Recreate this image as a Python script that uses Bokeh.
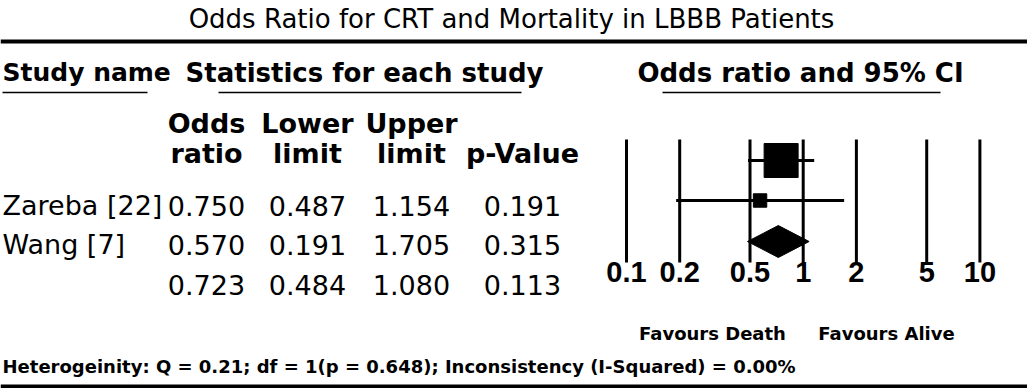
import math
from bokeh.plotting import figure
from bokeh.models import Range1d, LogScale
from bokeh.core.properties import value
from bokeh.embed import file_html
from bokeh.resources import INLINE

# ---------------- data ----------------
title_text = "Odds Ratio for CRT and Mortality in LBBB Patients"
studies = ["Zareba [22]", "Wang [7]"]
odds_ratio = [0.750, 0.570]
lower_limit = [0.487, 0.191]
upper_limit = [1.154, 1.705]
p_values = [0.191, 0.315]
rel_weight = [86.5, 13.5]          # relative weight (%) -> box size
pooled_or = 0.723
pooled_lower = 0.484
pooled_upper = 1.080
pooled_p = 0.113
col_head_1 = ["Odds", "Lower", "Upper", ""]
col_head_2 = ["ratio", "limit", "limit", "p-Value"]
tick_values = [0.1, 0.2, 0.5, 1, 2, 5, 10]
tick_labels = ["0.1", "0.2", "0.5", "1", "2", "5", "10"]
favours = ["Favours Death", "Favours Alive"]
heterogeneity = "Heterogeinity: Q = 0.21; df = 1(p = 0.648); Inconsistency (I-Squared) = 0.00%"

# ---------------- layout (pixel space) ----------------
W, H = 1027, 388
X_OR1 = 802.7        # where OR = 1 sits
DECADE = 176.7       # px per decade
FONT = value("DejaVu Sans")

p = figure(width=W, height=H, x_range=Range1d(0, W), y_range=Range1d(H, 0),
           output_backend="svg", toolbar_location=None, min_border=0)
p.axis.visible = False
p.grid.visible = False
p.outline_line_color = None
p.background_fill_color = "white"
p.border_fill_color = "white"

lo = 10 ** ((0 - X_OR1) / DECADE)
hi = 10 ** ((W - X_OR1) / DECADE)
p.extra_x_ranges = {"or": Range1d(lo, hi)}
p.extra_x_scales = {"or": LogScale()}

# title
p.text(x=[511], y=[18], text=[title_text], text_font=FONT, text_font_size="26px",
       text_align="center", text_baseline="middle", text_color="black")
# thick rules
p.segment(x0=[0, 0], y0=[41, 386], x1=[W, W], y1=[41, 386], line_width=4, line_color="black")

# section headers
p.text(x=[2], y=[72], text=["Study name"], text_font=FONT,
       text_font_size="25px", text_font_style="bold", text_align="left", text_baseline="middle")
p.text(x=[185], y=[72], text=["Statistics for each study"], text_font=FONT,
       text_font_size="26px", text_font_style="bold", text_align="left", text_baseline="middle")
p.text(x=[800], y=[72], text=["Odds ratio and 95% CI"], text_font=FONT,
       text_font_size="26px", text_font_style="bold", text_align="center", text_baseline="middle")
p.segment(x0=[2, 218, 662], y0=[92, 92, 92], x1=[147, 521, 940], y1=[92, 92, 92],
          line_width=1.5, line_color="black")

# column headers
col_x = [206, 307, 411, 522]
p.text(x=col_x, y=[123] * 4, text=col_head_1, text_font=FONT, text_font_size="27px",
       text_font_style="bold", text_align="center", text_baseline="middle")
p.text(x=col_x, y=[153] * 4, text=col_head_2, text_font=FONT, text_font_size="27px",
       text_font_style="bold", text_align="center", text_baseline="middle")

# table rows
row_y = [205, 244]
pooled_y = 284
p.text(x=[2] * len(studies), y=row_y, text=studies, text_font=FONT, text_font_size="27px",
       text_align="left", text_baseline="middle")
cols = [odds_ratio, lower_limit, upper_limit, p_values]
pooled_vals = [pooled_or, pooled_lower, pooled_upper, pooled_p]
for cx, vals, pv in zip(col_x, cols, pooled_vals):
    p.text(x=[cx] * (len(vals) + 1), y=row_y + [pooled_y],
           text=["%.3f" % v for v in vals] + ["%.3f" % pv],
           text_font=FONT, text_font_size="27px", text_align="center", text_baseline="middle")

# forest plot
forest_y = [160, 200]
diamond_y = 241
p.segment(x0=tick_values, y0=[139] * len(tick_values), x1=tick_values, y1=[262] * len(tick_values),
          line_width=3, line_color="black", x_range_name="or")
p.segment(x0=lower_limit, y0=forest_y, x1=upper_limit, y1=forest_y,
          line_width=3, line_color="black", x_range_name="or")
sizes = [34 * math.sqrt(w / max(rel_weight)) for w in rel_weight]
p.scatter(x=odds_ratio, y=forest_y, size=sizes, marker="square", fill_color="black",
          line_color="black", x_range_name="or")
p.patch(x=[pooled_lower, pooled_or, pooled_upper, pooled_or],
        y=[diamond_y, diamond_y - 16, diamond_y, diamond_y + 16],
        fill_color="black", line_color="black", x_range_name="or")
p.text(x=tick_values, y=[271] * len(tick_values), text=tick_labels,
       text_font=value("Liberation Sans"), text_font_size="29px", text_font_style="bold",
       text_align="center", text_baseline="middle", x_range_name="or")

# footer
p.text(x=[712, 886], y=[333, 333], text=favours, text_font=FONT, text_font_size="18px",
       text_font_style="bold", text_align="center", text_baseline="middle")
p.text(x=[2], y=[366], text=[heterogeneity], text_font=FONT, text_font_size="18px",
       text_font_style="bold", text_align="left", text_baseline="middle")

open("out.html", "w").write(file_html(p, INLINE))
